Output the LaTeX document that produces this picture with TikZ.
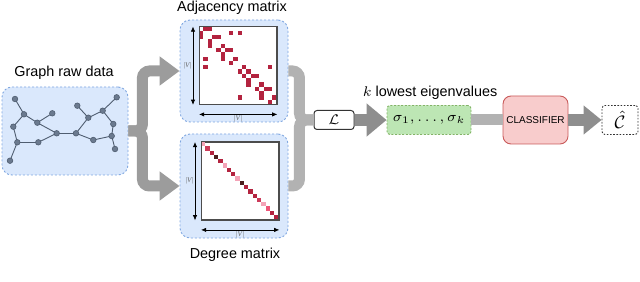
\documentclass[tikz,border=0pt]{standalone}
\usepackage{fontspec}
\setmainfont{Liberation Sans}
\newfontfamily\dimfont{Liberation Serif}
\usetikzlibrary{arrows.meta,calc}
\definecolor{panelblue}{HTML}{DAE8FC}
\definecolor{paneledge}{HTML}{7EA6E0}
\definecolor{eigfill}{HTML}{BDE6B4}
\definecolor{eigedge}{HTML}{82B366}
\definecolor{clffill}{HTML}{F8CCCC}
\definecolor{clfedge}{HTML}{C95A5A}
\definecolor{adjred}{HTML}{B3233F}
\definecolor{degpale}{HTML}{F4A3B7}
\definecolor{deghot}{HTML}{EE5478}
\definecolor{degrose}{HTML}{CC3B5A}
\definecolor{degmid}{HTML}{B3233F}
\definecolor{degdark}{HTML}{4B1E1E}
\definecolor{vertexfill}{HTML}{6B7A8F}
\definecolor{vertexedge}{HTML}{4F5D70}
\definecolor{linkdark}{HTML}{8E8E8E}
\definecolor{linkmid}{HTML}{9C9C9C}
\definecolor{linklight}{HTML}{B2B2B2}

\begin{document}
\begin{tikzpicture}[x=0.5pt,y=-0.5pt,font=\fontsize{7.2}{8.5}\selectfont,
  panel/.style={draw=paneledge,fill=panelblue,dash pattern=on 1pt off 1pt,rounded corners=5pt,line width=0.45pt},
  matframe/.style={draw=black!70,fill=white,line width=0.5pt,inner sep=0pt,minimum size=38.7pt},
  dimarrow/.style={{Latex[length=2.6pt,width=2.2pt]}-{Latex[length=2.6pt,width=2.2pt]},line width=0.35pt},
  dimlabel/.style={font=\dimfont\fontsize{3.6}{4}\selectfont,text=black!60,inner sep=0.5pt},
  gnode/.style={circle,fill=vertexfill,draw=vertexedge,line width=0.3pt,inner sep=0pt,minimum size=2.8pt},
  gedge/.style={draw=vertexedge,line width=0.45pt},
  fatlink/.style={draw=linkmid,line width=5.5pt,rounded corners=3.5pt},
  barlink/.style={draw=linklight,line width=5.5pt,rounded corners=3.5pt}]
\useasboundingbox (0,0) rectangle (640,282);

\node[panel,minimum width=63pt,minimum height=44pt] (graph) at (65,131) {};
\node (graphlbl) at (64,73) {Graph raw data};
\foreach \n/\x/\y in {a/15/99,b/24/114.3,c/37.3/122.7,d/52.3/113.3,e/13.3/126.7,f/17.3/142.3,g/38.3/142.3,h/10/160.7,i/56.7/133.3,j/76/133.3,k/77.3/105.7,l/88.3/117.7,m/102.7/110.7,n/116.7/97.3,o/113.3/124,p/111.7/136,q/115/149,r/93.3/140}
  \coordinate (\n) at (\x,\y);
\foreach \u/\v in {a/b,b/c,c/d,b/e,e/f,f/h,f/g,g/i,c/i,i/j,j/l,l/k,l/m,m/n,m/o,o/p,p/q,p/r,r/j}
  \draw[gedge] (\u) -- (\v);
\foreach \n in {a,b,c,d,e,f,g,h,i,j,k,l,m,n,o,p,q,r}
  \node[gnode] (v\n) at (\n) {};

\node[panel,minimum width=54pt,minimum height=51pt] (adj) at (234,71) {};
\node (adjlbl) at (232,8) {Adjacency matrix};
\node[matframe] (adjmat) at (238.2,65.7) {};
\foreach \r/\c in {0/1,0/2,1/7,1/9,2/3,2/4,4/5,5/6,5/7,7/8,9/10,9/16,10/11,11/12,11/13,13/14,14/15,14/16,16/17} {
  \fill[adjred] ($(adjmat.north west)+(\c*4.3,\r*4.3)$) rectangle +(4.3,4.3);
  \fill[adjred] ($(adjmat.north west)+(\r*4.3,\c*4.3)$) rectangle +(4.3,4.3);
}
\draw[draw=black!70,line width=0.5pt] (adjmat.north west) rectangle (adjmat.south east);
\draw[dimarrow] ($(adjmat.north west)+(-6,0)$) -- ($(adjmat.south west)+(-6,0)$) node[midway,left,dimlabel] {|\textit{V}|};
\draw[dimarrow] ($(adjmat.south west)+(0,9.5)$) -- ($(adjmat.south east)+(0,9.5)$) node[midway,below,dimlabel] {|\textit{V}|};

\node[panel,minimum width=54pt,minimum height=52pt] (deg) at (234,186) {};
\node (deglbl) at (235,255) {Degree matrix};
\node[matframe] (degmat) at (240.2,181.2) {};
\foreach \i/\col in {0/degpale,1/degrose,2/degmid,3/degdark,4/degmid,5/degpale,6/degmid,7/degmid,8/degpale,9/degdark,10/degmid,11/degmid,12/degmid,13/degrose,14/degpale,15/deghot,16/degmid,17/degmid}
  \fill[\col] ($(degmat.north west)+(\i*4.3,\i*4.3)$) rectangle +(4.3,4.3);
\draw[draw=black!70,line width=0.5pt] (degmat.north west) rectangle (degmat.south east);
\draw[dimarrow] ($(degmat.north west)+(-6,0)$) -- ($(degmat.south west)+(-6,0)$) node[midway,left,dimlabel] {|\textit{V}|};
\draw[dimarrow] ($(degmat.south west)+(0,9.5)$) -- ($(degmat.south east)+(0,9.5)$) node[midway,below,dimlabel] {|\textit{V}|};

\node[draw=black!80,fill=white,rounded corners=1.5pt,line width=0.5pt,minimum width=20pt,minimum height=9.5pt,inner sep=0pt] (lap) at (334,120) {$\mathcal{L}$};
\node[draw=eigedge,fill=eigfill,dash pattern=on 1pt off 0.8pt,rounded corners=1.5pt,line width=0.45pt,minimum width=42pt,minimum height=14.5pt,inner sep=0pt] (eig) at (429,120) {$\sigma_1,\ldots,\sigma_k$};
\node (eiglbl) at (430,93) {$k$ lowest eigenvalues};
\node[draw=clfedge,fill=clffill,rounded corners=4pt,line width=0.45pt,minimum width=32.5pt,minimum height=24pt,inner sep=0pt,font=\fontsize{5}{6}\selectfont] (clf) at (535.5,120) {CLASSIFIER};
\node[draw=black!80,fill=white,dash pattern=on 0.8pt off 0.8pt,rounded corners=1.5pt,line width=0.45pt,minimum width=18pt,minimum height=14.5pt,inner sep=0pt,font=\fontsize{9}{10}\selectfont] (chat) at (620,120) {$\hat{\mathcal{C}}$};

\draw[fatlink,-{Triangle[length=10pt,width=14pt]}] (graph.east) -- ++(14,0) |- (adj.west);
\draw[fatlink,-{Triangle[length=10pt,width=14pt]}] (graph.east) -- ++(14,0) |- (deg.west);
\draw[barlink] (adj.east) -- ++(11,0) |- (lap.west);
\draw[barlink] (deg.east) -- ++(11,0) |- (lap.west);
\draw[draw=linkdark,line width=6pt,-{Triangle[length=10pt,width=16pt]}] (lap) -- (eig);
\draw[draw=linklight,line width=5.5pt] (eig) -- (clf);
\draw[draw=linkdark,line width=6pt,-{Triangle[length=9pt,width=14pt]}] (clf) -- (chat);
\end{tikzpicture}
\end{document}
